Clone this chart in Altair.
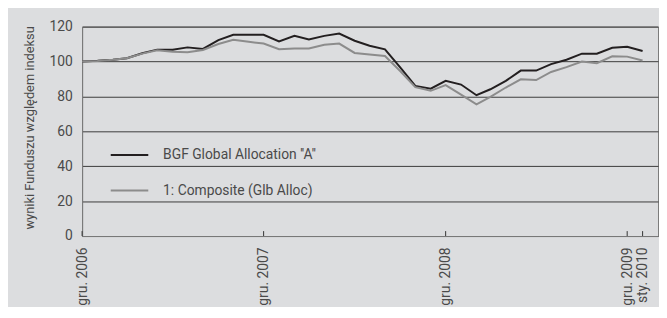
import altair as alt
import pandas as pd

# ---- data ----
months = pd.date_range("2006-12-01", "2010-01-01", freq="MS").strftime("%Y-%m-%d").tolist()
fund = [100, 100.4, 101, 101.9, 104.7, 106.8, 106.8, 108.1, 107.2, 112.3,
        115.3, 115.3, 115.3, 111.5, 114.7, 112.6, 114.7, 116, 111.9, 109,
        107, 96.5, 86, 84.4, 88.9, 86.8, 80.7, 84.1, 88.9, 94.8,
        94.8, 98.5, 101, 104.5, 104.5, 107.9, 108.4, 106]
composite = [100, 100.3, 101, 101.9, 104.5, 106.4, 105.6, 105.3, 106.6, 110,
             112.4, 111.3, 110.3, 107, 107.5, 107.5, 109.6, 110.3, 104.9, 104,
             103.2, 94.4, 85.3, 83.2, 86.5, 81, 75.5, 79.8, 85.1, 89.8,
             89.4, 94, 96.8, 100, 99, 103, 102.8, 100.6]
series_names = ["BGF Global Allocation ''A''", "1: Composite (Glb Alloc)"]
series_colors = ["#231f20", "#8c8c8c"]
tick_dates = ["2006-12-01", "2007-12-01", "2008-12-01", "2009-12-01", "2010-01-01"]
y_ticks = [0, 20, 40, 60, 80, 100, 120]

df = pd.DataFrame({
    "date": months + months,
    "value": fund + composite,
    "series": [series_names[0]] * len(months) + [series_names[1]] * len(months),
})
ticks_df = pd.DataFrame({"date": tick_dates})

W, H = 583, 212
FONT = "Roboto"
TXT = "#4a4a4a"

x_scale = alt.Scale(
    type="utc",
    domain=[alt.DateTime(year=2006, month=12, date=1, utc=True),
            alt.DateTime(year=2010, month=2, date=1, utc=True)],
)
x_values = [alt.DateTime(year=int(d[:4]), month=int(d[5:7]), date=1, utc=True) for d in tick_dates]

lines = alt.Chart(df).mark_line(strokeWidth=2).encode(
    x=alt.X("date:T", scale=x_scale,
            axis=alt.Axis(values=x_values, title=None, grid=False, ticks=False,
                          domainColor="#7a7a7a", labelAngle=270, labelPadding=11,
                          labelFontSize=14, labelColor=TXT, labelFont=FONT,
                          labelExpr="(utcmonth(datum.value) == 11 ? 'gru. ' : 'sty. ') + utcyear(datum.value)")),
    y=alt.Y("value:Q", scale=alt.Scale(domain=[0, 120], nice=False),
            axis=alt.Axis(values=y_ticks, grid=True, gridColor="#3a3a3a", gridWidth=1,
                          ticks=False, domainColor="#7a7a7a", labelPadding=10,
                          labelFontSize=14, labelColor=TXT, labelFont=FONT,
                          title="wyniki Funduszu względem indeksu", titleFont=FONT,
                          titleFontSize=13, titleFontWeight="normal", titleColor=TXT,
                          titleX=-46, titleY=H / 2 - 4)),
    color=alt.Color("series:N",
                    scale=alt.Scale(domain=series_names, range=series_colors),
                    legend=alt.Legend(orient="none", legendX=28, legendY=110, title=None,
                                      symbolType="stroke", symbolSize=1444,
                                      symbolStrokeWidth=2, labelFontSize=14,
                                      labelColor=TXT, labelFont=FONT, labelOffset=14,
                                      rowPadding=9)),
)

ticks = alt.Chart(ticks_df).mark_rule(color="#333333", strokeWidth=1).encode(
    x=alt.X("date:T", scale=x_scale),
    y=alt.value(H - 5),
    y2=alt.value(H),
)

chart = alt.layer(lines, ticks).properties(
    width=W, height=H,
    autosize=alt.AutoSizeParams(type="none"),
    padding={"left": 75, "top": 17, "right": 1, "bottom": 70},
    background="#dcdddf",
).configure_view(stroke="#7a7a7a", strokeWidth=1)

chart.save("out.html", embed_options={"renderer": "svg", "actions": False})
